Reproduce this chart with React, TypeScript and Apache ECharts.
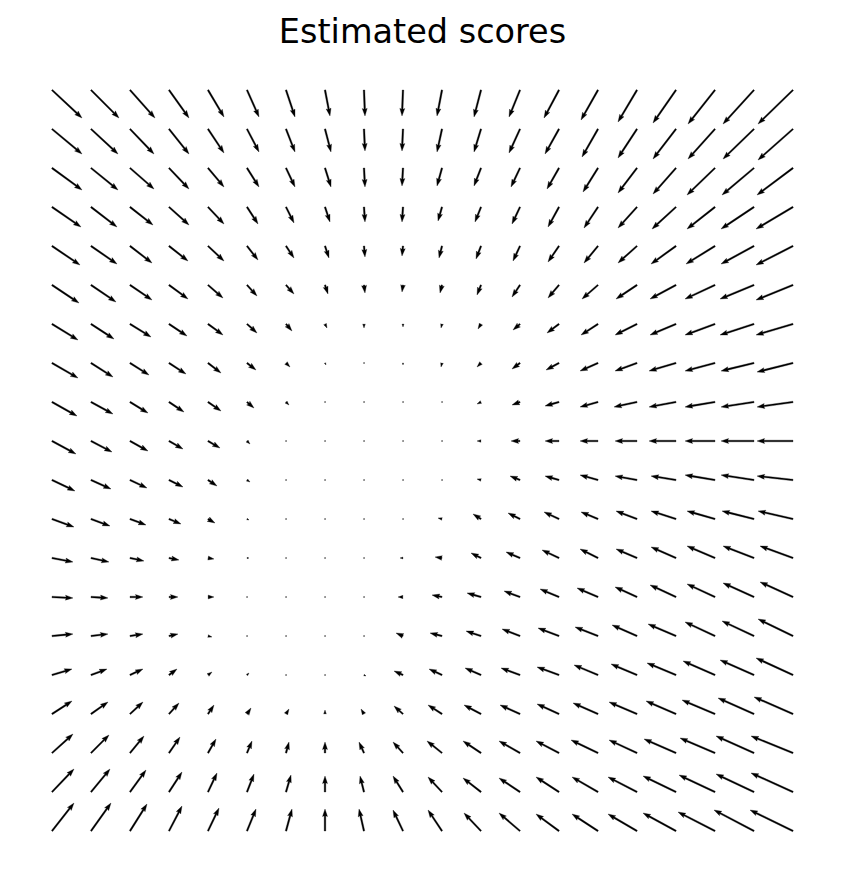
import React, { useEffect, useRef } from "react";
import * as echarts from "echarts";

// Quiver of estimated scores on a 20 x 20 grid.
// Each row (top to bottom) lists [u, v] per column (left to right),
// u = rightward component, v = downward component (score units).
const scoreRows: number[][][] = [
  [[30,28],[28,28],[25,28],[20,28],[16,27],[12,27],[9,27],[5,26],[1,26],[-1,26],[-5,26],[-7,27],[-11,27],[-15,28],[-17,30],[-19,32],[-23,33],[-27,34],[-31,34],[-35,34]],
  [[30,25],[27,25],[24,25],[20,25],[16,24],[12,23],[9,23],[6,23],[1,22],[-1,22],[-5,23],[-7,23],[-11,24],[-14,25],[-16,28],[-19,29],[-23,30],[-27,30],[-31,30],[-35,31]],
  [[30,22],[27,22],[24,21],[20,21],[16,19],[12,19],[9,19],[6,19],[1,19],[-1,18],[-5,18],[-7,18],[-9,19],[-12,21],[-15,24],[-19,25],[-23,26],[-28,27],[-32,27],[-36,27]],
  [[29,20],[26,20],[23,18],[20,18],[16,17],[11,17],[8,16],[5,15],[1,15],[-1,15],[-4,14],[-6,15],[-8,17],[-11,20],[-14,21],[-19,21],[-24,22],[-28,22],[-33,22],[-37,22]],
  [[28,19],[26,18],[22,17],[19,15],[16,15],[11,14],[8,12],[4,12],[1,11],[-1,10],[-3,12],[-5,13],[-7,15],[-11,16],[-14,17],[-19,17],[-25,18],[-29,18],[-33,18],[-37,19]],
  [[27,18],[25,17],[22,15],[19,14],[15,13],[10,11],[8,9],[3,9],[1,8],[-1,7],[-2,8],[-4,10],[-8,12],[-11,13],[-16,14],[-21,14],[-26,14],[-30,14],[-34,14],[-37,15]],
  [[26,16],[23,15],[21,13],[18,12],[15,11],[10,9],[6,7],[2,4],[0,4],[0,3],[-1,4],[-3,5],[-7,6],[-12,9],[-17,11],[-22,11],[-26,11],[-30,11],[-34,11],[-37,11]],
  [[26,15],[22,14],[19,12],[17,11],[13,10],[9,7],[4,4],[1,2],[0,1],[0,2],[-1,4],[-4,4],[-8,6],[-13,7],[-18,8],[-22,8],[-27,8],[-30,8],[-33,8],[-36,9]],
  [[25,14],[22,12],[18,11],[15,10],[13,9],[7,6],[3,3],[1,0],[0,0],[0,0],[0,1],[-4,2],[-8,3],[-14,4],[-18,5],[-23,5],[-27,5],[-30,5],[-33,5],[-36,5]],
  [[24,13],[21,11],[18,10],[14,8],[12,7],[3,3],[1,0],[0,0],[0,0],[0,0],[0,0],[-4,0],[-9,0],[-14,0],[-18,0],[-22,0],[-27,0],[-30,0],[-33,0],[-36,0]],
  [[23,11],[20,9],[17,8],[14,7],[9,6],[3,2],[0,0],[0,0],[0,0],[0,0],[0,1],[-4,-1],[-10,-4],[-14,-4],[-18,-5],[-22,-4],[-25,-4],[-30,-5],[-33,-5],[-36,-4]],
  [[22,8],[19,7],[16,6],[12,5],[7,4],[2,1],[0,0],[0,0],[0,0],[0,0],[-4,-1],[-8,-5],[-12,-6],[-15,-7],[-17,-7],[-21,-8],[-25,-8],[-28,-8],[-32,-8],[-35,-8]],
  [[21,4],[18,4],[14,3],[10,2],[6,1],[2,0],[0,0],[0,0],[0,0],[-3,0],[-7,-1],[-10,-5],[-14,-6],[-17,-8],[-18,-9],[-21,-9],[-25,-11],[-28,-12],[-31,-12],[-33,-12]],
  [[21,1],[17,1],[13,0],[9,0],[6,0],[1,0],[0,0],[0,0],[0,0],[-5,0],[-10,-2],[-14,-4],[-16,-6],[-19,-8],[-21,-9],[-22,-10],[-26,-12],[-28,-13],[-31,-14],[-33,-15]],
  [[21,-2],[17,-2],[13,-2],[9,-2],[4,1],[1,0],[0,0],[0,0],[0,0],[-7,-3],[-12,-3],[-15,-5],[-18,-7],[-21,-8],[-23,-9],[-25,-11],[-28,-12],[-30,-14],[-32,-15],[-35,-17]],
  [[20,-6],[16,-6],[13,-6],[8,-6],[4,-3],[2,-2],[1,0],[0,0],[2,1],[-9,-4],[-13,-6],[-16,-7],[-19,-7],[-22,-8],[-24,-10],[-26,-11],[-29,-12],[-32,-14],[-34,-15],[-37,-17]],
  [[20,-13],[17,-12],[13,-12],[10,-11],[6,-9],[4,-6],[3,-5],[0,-4],[-3,-5],[-9,-8],[-14,-9],[-17,-9],[-20,-9],[-22,-10],[-25,-11],[-28,-12],[-30,-13],[-33,-14],[-36,-16],[-39,-17]],
  [[21,-19],[18,-18],[14,-17],[11,-16],[8,-14],[5,-12],[3,-11],[0,-11],[-5,-11],[-10,-11],[-15,-12],[-18,-12],[-21,-12],[-23,-12],[-27,-13],[-28,-13],[-32,-14],[-35,-15],[-38,-17],[-42,-17]],
  [[22,-23],[19,-23],[16,-22],[13,-20],[9,-19],[7,-18],[5,-17],[0,-16],[-4,-16],[-10,-16],[-14,-15],[-18,-14],[-21,-14],[-23,-15],[-26,-15],[-29,-15],[-33,-16],[-36,-17],[-38,-18],[-42,-19]],
  [[22,-28],[20,-28],[17,-27],[13,-25],[11,-23],[9,-22],[6,-22],[0,-22],[-5,-22],[-10,-21],[-14,-21],[-17,-18],[-21,-18],[-23,-17],[-26,-17],[-29,-17],[-33,-18],[-37,-19],[-40,-21],[-43,-21]],
];

const TITLE = "Estimated scores";
// quiver scale: grid units per score unit
const QUIVER_SCALE = 1 / 39;

export default function App() {
  const ref = useRef<HTMLDivElement>(null);
  useEffect(() => {
    if (!ref.current) return;
    const chart = echarts.init(ref.current, null, { renderer: "svg" });
    const data: number[][] = [];
    scoreRows.forEach((row, r) => {
      row.forEach((vec, c) => {
        data.push([c, r, vec[0], vec[1]]);
      });
    });
    const SW = 1.6; // shaft width
    const HW = 5.0; // head width
    const HL = 7.6; // head length
    const HAL = 6.8; // head axis length
    const renderItem = (params: any, api: any) => {
      const x = api.value(0);
      const y = api.value(1);
      const u = api.value(2);
      const v = api.value(3);
      const p0 = api.coord([x, y]);
      const p1 = api.coord([x + u * QUIVER_SCALE, y + v * QUIVER_SCALE]);
      const dx = p1[0] - p0[0];
      const dy = p1[1] - p0[1];
      const L = Math.sqrt(dx * dx + dy * dy);
      if (L < 1.2) {
        return {
          type: "circle",
          shape: { cx: p0[0], cy: p0[1], r: 0.7 },
          style: { fill: "#000" },
        };
      }
      const ux = dx / L;
      const uy = dy / L;
      const px = -uy;
      const py = ux;
      let len = L;
      let s = 1;
      if (L < HL) {
        len = HL;
        s = L / HL;
      }
      const local = [
        [0, -SW / 2],
        [len - HAL, -SW / 2],
        [len - HL, -HW / 2],
        [len, 0],
        [len - HL, HW / 2],
        [len - HAL, SW / 2],
        [0, SW / 2],
      ];
      const pts = local.map(([a, b]) => [
        p0[0] + (a * ux + b * px) * s,
        p0[1] + (a * uy + b * py) * s,
      ]);
      return {
        type: "polygon",
        shape: { points: pts },
        style: { fill: "#000", stroke: "#000", lineWidth: 0.3 },
      };
    };
    chart.setOption({
      animation: false,
      backgroundColor: "#fff",
      title: {
        text: TITLE,
        left: "center",
        top: 9,
        textStyle: {
          fontFamily: "DejaVu Sans",
          fontSize: 33.5,
          fontWeight: "normal",
          color: "#000",
        },
      },
      grid: { left: 32.5, top: 70.5, width: 780, height: 780 },
      xAxis: { type: "value", min: -0.5, max: 19.5, show: false },
      yAxis: { type: "value", min: -0.5, max: 19.5, inverse: true, show: false },
      series: [
        {
          type: "custom",
          renderItem,
          data,
          clip: false,
          silent: true,
        },
      ],
    });
    return () => chart.dispose();
  }, []);
  return (
    <div
      ref={ref}
      style={{ position: "fixed", left: 0, top: 0, width: 845, height: 884 }}
    />
  );
}
